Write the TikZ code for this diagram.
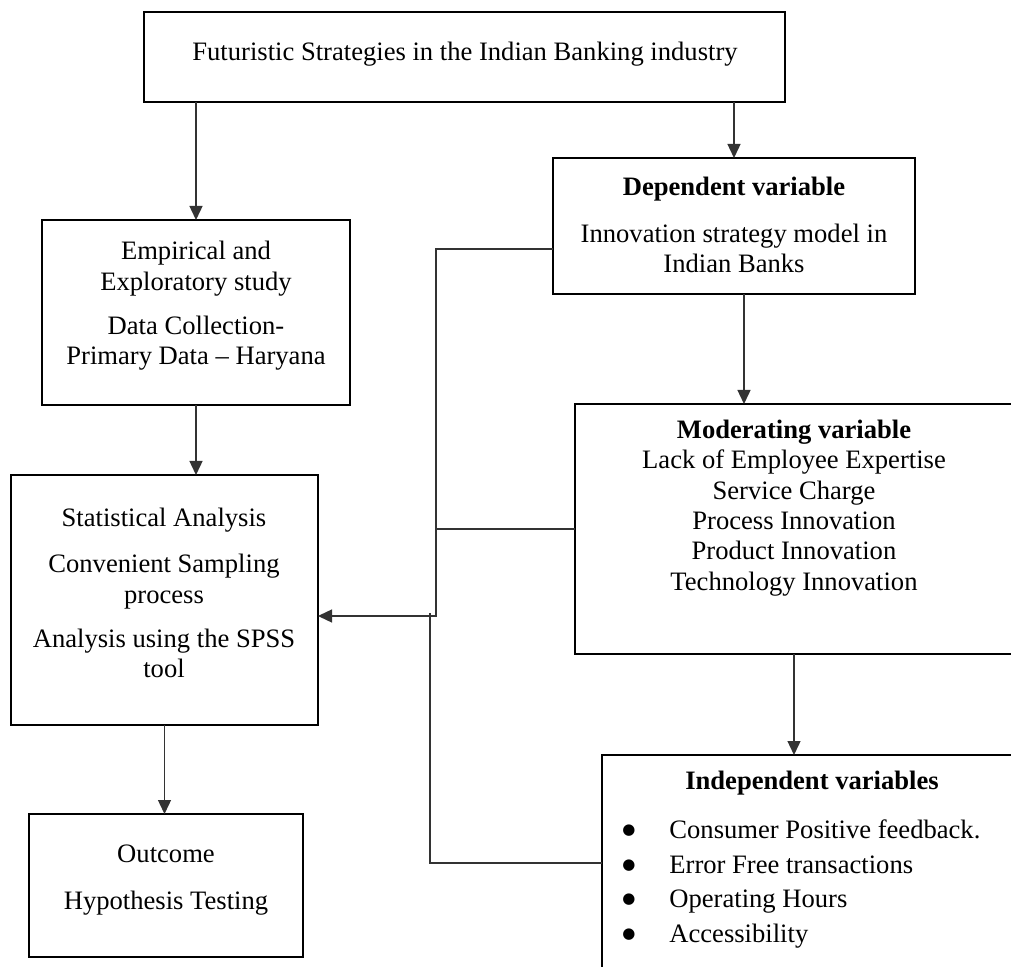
\documentclass[tikz,border=0pt]{standalone}
\usepackage{fontspec}
\setmainfont{Liberation Serif}
\newfontfamily\dejavu{DejaVu Sans}
\usetikzlibrary{fit,arrows.meta}
\newcommand{\bigbul}{\makebox[23.5pt][l]{\raisebox{2pt}{\dejavu\fontsize{7.5}{7.5}\selectfont ●}}}
\begin{document}
\begin{tikzpicture}[x=0.5pt,y=-0.5pt,
  box/.style={draw=black,line width=1.3pt,inner sep=0pt,outer sep=0pt},
  conn/.style={draw=black!80,line width=0.7pt},
  arr/.style={conn,-{Triangle[length=7pt,width=6.5pt]}},
  txt/.style={align=center,inner sep=0pt,font=\fontsize{13.3}{15.2}\selectfont}]
\useasboundingbox (0,0) rectangle (1011,967);
\clip (0,0) rectangle (1011,967);
% boxes
\node[box,fit={(144,12)(785,102)}] (top) {};
\node[box,fit={(553,158)(915,294)}] (dep) {};
\node[box,fit={(42,220)(350,405)}] (emp) {};
\node[box,fit={(11,475)(318,725)}] (stat) {};
\node[box,fit={(29,814)(303,957)}] (out) {};
\node[box,fit={(575,404)(1022,654)}] (mod) {};
\node[box,fit={(602,755)(1030,1000)}] (ind) {};
% texts
\node[txt] (ttop) at (465,54) {Futuristic Strategies in the Indian Banking industry};
\node[txt] (tdep) at (734,225) {\textbf{Dependent variable}\\[8pt]Innovation strategy model in\\Indian Banks};
\node[txt] (temp) at (196,306) {Empirical and\\Exploratory study\\[7pt]Data Collection-\\Primary Data – Haryana};
\node[txt] (tstat) at (164,593) {Statistical Analysis\\[8pt]Convenient Sampling\\process\\[7pt]Analysis using the SPSS\\tool};
\node[txt] (tout) at (166,880) {Outcome\\[8pt]Hypothesis Testing};
\node[txt] (tmod) at (794,508) {\textbf{Moderating variable}\\Lack of Employee Expertise\\Service Charge\\Process Innovation\\Product Innovation\\Technology Innovation};
\node[txt] (tind) at (812,783) {\textbf{Independent variables}};
\node[txt,align=left,anchor=west,font=\fontsize{13.3}{17.2}\selectfont] (tlist) at (622,884)
  {\bigbul Consumer Positive feedback.\\
   \bigbul Error Free transactions\\
   \bigbul Operating Hours\\
   \bigbul Accessibility};
% helper coordinates
\coordinate (c1) at (744,0);
\coordinate (c2) at (794,0);
\coordinate (j1) at (436,249);
\coordinate (j2) at (436,616);
\coordinate (j3) at (430,863);
\coordinate (j4) at (430,613);
% connectors
\draw[arr] (emp.north |- top.south) -- (emp.north);
\draw[arr] (dep.north |- top.south) -- (dep.north);
\draw[arr] (c1 |- dep.south) -- (c1 |- mod.north);
\draw[arr] (c2 |- mod.south) -- (c2 |- ind.north);
\draw[arr] (emp.south) -- (emp.south |- stat.north);
\draw[arr] (stat.south) -- (stat.south |- out.north);
\draw[arr] (j1 -| dep.west) -- (j1) -- (j2) -- (j2 -| stat.east);
\draw[conn] (mod.west) -- (mod.west -| j1);
\draw[conn] (j3 -| ind.west) -- (j3) -- (j4);
\end{tikzpicture}
\end{document}
